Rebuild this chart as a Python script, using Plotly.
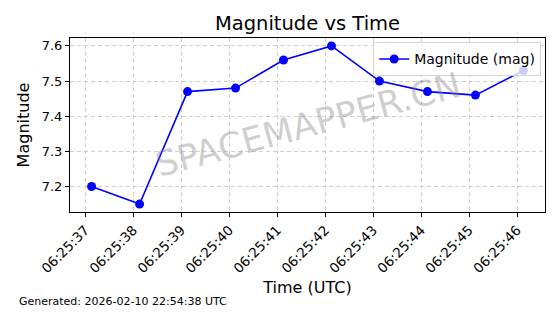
import plotly.graph_objects as go

times = ["2026-02-10 06:25:37.13", "2026-02-10 06:25:38.13", "2026-02-10 06:25:39.13",
         "2026-02-10 06:25:40.13", "2026-02-10 06:25:41.13", "2026-02-10 06:25:42.13",
         "2026-02-10 06:25:43.13", "2026-02-10 06:25:44.13", "2026-02-10 06:25:45.13",
         "2026-02-10 06:25:46.13"]
magnitude = [7.20, 7.15, 7.47, 7.48, 7.56, 7.60, 7.50, 7.47, 7.46, 7.53]
tick_vals = ["2026-02-10 06:25:%02d" % s for s in range(37, 47)]
y_ticks = [7.2, 7.3, 7.4, 7.5, 7.6]

FONT = "DejaVu Sans"

fig = go.Figure()
fig.add_trace(go.Scatter(
    x=times, y=magnitude, mode="lines+markers", name="Magnitude (mag)",
    line=dict(color="#0000ff", width=1.6),
    marker=dict(color="#0000ff", size=9),
))

fig.update_layout(
    width=560, height=314,
    margin=dict(l=70, r=15, t=38, b=102),
    paper_bgcolor="white", plot_bgcolor="white",
    font=dict(family=FONT, color="black", size=12),
    title=dict(text="Magnitude vs Time", x=0.5, xanchor="center", xref="paper",
               y=0.925, yanchor="middle", yref="container",
               font=dict(size=19.5, family=FONT, color="black")),
    showlegend=True,
    legend=dict(x=0.992, xanchor="right", y=0.975, yanchor="top",
                bgcolor="rgba(255,255,255,0.8)", bordercolor="#d5d5d5", borderwidth=1,
                font=dict(size=14, family=FONT)),
    xaxis=dict(
        type="date", range=["2026-02-10 06:25:36.68", "2026-02-10 06:25:46.58"],
        tickvals=tick_vals, tickformat="%H:%M:%S", tickangle=-45,
        ticks="outside", ticklen=4, tickcolor="black",
        showline=True, linecolor="black", linewidth=1, mirror=True,
        showgrid=True, gridcolor="#cfcfcf", griddash="4px,3px", gridwidth=1,
        tickfont=dict(size=13.5, family=FONT),
        title=dict(text="Time (UTC)", font=dict(size=16, family=FONT), standoff=6),
        zeroline=False,
    ),
    yaxis=dict(
        range=[7.1275, 7.6225], tickvals=y_ticks, tickformat=".1f",
        ticks="outside", ticklen=4, tickcolor="black",
        showline=True, linecolor="black", linewidth=1, mirror=True,
        showgrid=True, gridcolor="#cfcfcf", griddash="4px,3px", gridwidth=1,
        tickfont=dict(size=13, family=FONT),
        title=dict(text="Magnitude", font=dict(size=16, family=FONT), standoff=8),
        zeroline=False,
    ),
)

fig.add_annotation(
    text="SPACEMAPPER.CN", xref="paper", yref="paper", x=0.5, y=0.5,
    showarrow=False, textangle=-15,
    font=dict(size=35, family=FONT, color="rgba(128,128,128,0.4)"),
)
fig.add_annotation(
    text="Generated: 2026-02-10 22:54:38 UTC", xref="paper", yref="paper",
    x=-0.0, y=0, xshift=-53, yshift=-98, xanchor="left", yanchor="bottom",
    showarrow=False, font=dict(size=11, family=FONT, color="black"),
)

fig.write_html("out.html")
